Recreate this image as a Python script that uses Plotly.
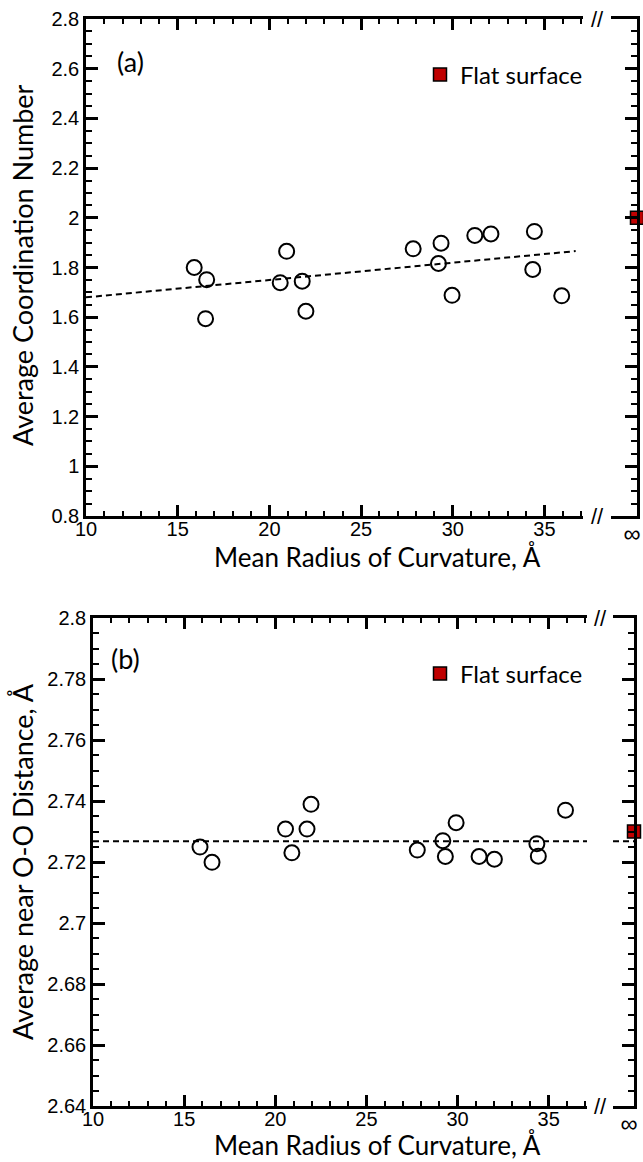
import plotly.graph_objects as go

# ---------------- data ----------------
# Panel (a): average coordination number vs mean radius of curvature
radius_a = [15.90, 16.58, 16.52, 20.94, 20.59, 21.79, 21.99, 27.84, 29.36, 29.22,
            29.96, 31.20, 32.08, 34.45, 34.36, 35.94]
coord_a = [1.800, 1.751, 1.594, 1.865, 1.739, 1.745, 1.624, 1.875, 1.898, 1.816,
           1.688, 1.929, 1.935, 1.945, 1.792, 1.686]
fit_x_a = [10.0, 36.7]
fit_y_a = [1.680, 1.866]
flat_x = [1.0]          # position of the "infinity" point on the broken segment
flat_a = [2.0]

# Panel (b): average near O-O distance vs mean radius of curvature
radius_b = [15.87, 16.53, 20.56, 20.91, 21.74, 21.96, 27.79, 29.19, 29.33, 29.92,
            31.18, 32.02, 34.35, 34.43, 35.92]
dist_b = [2.7249, 2.7199, 2.7308, 2.7230, 2.7308, 2.7389, 2.7239, 2.7270, 2.7218,
          2.7329, 2.7218, 2.7209, 2.7260, 2.7219, 2.7370]
fit_x_b = [10.0, 37.1]
fit_y_b = [2.7268, 2.7268]
fit_xinf_b = [0.0, 1.0]
fit_yinf_b = [2.7268, 2.7268]
flat_b = [2.730]

x_ticks = [10, 15, 20, 25, 30, 35]
x_ticklabels = ["10", "15", "20", "25", "30", "35"]
inf_label = ["∞"]
ya_ticks = [0.8, 1.0, 1.2, 1.4, 1.6, 1.8, 2.0, 2.2, 2.4, 2.6, 2.8]
ya_ticklabels = ["0.8", "1", "1.2", "1.4", "1.6", "1.8", "2", "2.2", "2.4", "2.6", "2.8"]
yb_ticks = [2.64, 2.66, 2.68, 2.70, 2.72, 2.74, 2.76, 2.78, 2.80]
yb_ticklabels = ["2.64", "2.66", "2.68", "2.7", "2.72", "2.74", "2.76", "2.78", "2.8"]

# ---------------- figure ----------------
W, H = 643, 1162
def px(x):
    return x / W
def py(y):
    return 1 - y / H

TICKFONT = dict(family="Liberation Sans, Arial", size=20, color="black")
TXTFONT = "Lato, Open Sans, sans-serif"
LW = 2.5

fig = go.Figure()

circ = dict(symbol="circle-open", size=15, color="black", line=dict(width=2, color="black"))
sq = dict(symbol="square", size=13, color="#C00000", line=dict(width=1.5, color="black"))
dash = dict(color="black", width=2, dash="6px,4px")

# panel a
fig.add_trace(go.Scatter(x=fit_x_a, y=fit_y_a, mode="lines", line=dash,
                         xaxis="x", yaxis="y", showlegend=False, hoverinfo="skip"))
fig.add_trace(go.Scatter(x=radius_a, y=coord_a, mode="markers", marker=circ,
                         xaxis="x", yaxis="y", showlegend=False))
fig.add_trace(go.Scatter(x=flat_x, y=flat_a, mode="markers", marker=sq, name="Flat surface",
                         xaxis="x2", yaxis="y2", cliponaxis=False, legend="legend"))
# panel b
fig.add_trace(go.Scatter(x=fit_x_b, y=fit_y_b, mode="lines", line=dash,
                         xaxis="x3", yaxis="y3", showlegend=False, hoverinfo="skip"))
fig.add_trace(go.Scatter(x=fit_xinf_b, y=fit_yinf_b, mode="lines", line=dash,
                         xaxis="x4", yaxis="y4", showlegend=False, hoverinfo="skip"))
fig.add_trace(go.Scatter(x=radius_b, y=dist_b, mode="markers", marker=circ,
                         xaxis="x3", yaxis="y3", showlegend=False))
fig.add_trace(go.Scatter(x=flat_x, y=flat_b, mode="markers", marker=sq, name="Flat surface",
                         xaxis="x4", yaxis="y4", cliponaxis=False, legend="legend2"))

def main_x(domain, anchor):
    return dict(domain=domain, anchor=anchor, range=[10, 37.1], showline=True, linewidth=LW,
                linecolor="black", mirror="ticks", ticks="inside", ticklen=11, tickwidth=LW,
                tickcolor="black", tickvals=x_ticks, ticktext=x_ticklabels, tickfont=TICKFONT,
                ticklabelstandoff=-7,
                minor=dict(ticks="inside", dtick=1, tick0=10, ticklen=5, tickwidth=1.5,
                           tickcolor="black"),
                showgrid=False, zeroline=False, fixedrange=True, automargin=False)

def inf_x(domain, anchor):
    return dict(domain=domain, anchor=anchor, range=[0, 1], showline=True, linewidth=LW,
                linecolor="black", mirror=True, ticks="", tickvals=flat_x, ticktext=inf_label,
                tickfont=dict(family="Liberation Sans, Arial", size=24, color="black"),
                ticklabelshift=-5, ticklabelstandoff=-6, showgrid=False, zeroline=False,
                fixedrange=True, automargin=False)

def left_y(domain, anchor, rng, tv, tt, minor_dtick):
    return dict(domain=domain, anchor=anchor, range=rng, showline=True, linewidth=LW,
                linecolor="black", ticks="inside", ticklen=12, tickwidth=LW, tickcolor="black",
                tickvals=tv, ticktext=tt, tickfont=TICKFONT,
                minor=dict(ticks="inside", dtick=minor_dtick, tick0=rng[0], ticklen=6,
                           tickwidth=1.5, tickcolor="black"),
                showgrid=False, zeroline=False, fixedrange=True, automargin=False)

def right_y(domain, anchor, rng, tv, minor_dtick):
    return dict(domain=domain, anchor=anchor, range=rng, side="right", showline=True,
                linewidth=LW, linecolor="black", ticks="inside", ticklen=12, tickwidth=LW,
                tickcolor="black", tickvals=tv, showticklabels=False,
                minor=dict(ticks="inside", dtick=minor_dtick, tick0=rng[0], ticklen=6,
                           tickwidth=1.5, tickcolor="black"),
                showgrid=False, zeroline=False, fixedrange=True, automargin=False)

dom_ya = [py(516), py(19)]
dom_yb = [py(1106), py(618)]

fig.update_layout(
    width=W, height=H, margin=dict(l=0, r=0, t=0, b=0, autoexpand=False),
    paper_bgcolor="white", plot_bgcolor="white",
    xaxis=main_x([px(86), px(583)], "y"),
    xaxis2=inf_x([px(611), px(637)], "y2"),
    yaxis=left_y(dom_ya, "x", [0.8, 2.8], ya_ticks, ya_ticklabels, 0.05),
    yaxis2=right_y(dom_ya, "x2", [0.8, 2.8], ya_ticks, 0.05),
    xaxis3=main_x([px(93), px(587)], "y3"),
    xaxis4=inf_x([px(613), px(634)], "y4"),
    yaxis3=left_y(dom_yb, "x3", [2.64, 2.80], yb_ticks, yb_ticklabels, 0.005),
    yaxis4=right_y(dom_yb, "x4", [2.64, 2.80], yb_ticks, 0.005),
    legend=dict(x=px(420), y=py(75), xanchor="left", yanchor="middle",
                bgcolor="rgba(0,0,0,0)", font=dict(family=TXTFONT, size=24, color="black")),
    legend2=dict(x=px(420), y=py(674), xanchor="left", yanchor="middle",
                 bgcolor="rgba(0,0,0,0)", font=dict(family=TXTFONT, size=24, color="black")),
)

ann = []
# axis break marks
for bx, by in [(597, 19), (597, 516), (600, 618), (600, 1106)]:
    ann.append(dict(text="//", x=px(bx), y=py(by), xref="paper", yref="paper",
                    showarrow=False, font=dict(family="Liberation Sans, Arial", size=22,
                                               color="black"),
                    bgcolor="white", xanchor="center", yanchor="middle"))
# panel labels
for lab, lx, ly in [("(a)", 130, 62), ("(b)", 125, 658)]:
    ann.append(dict(text=lab, x=px(lx), y=py(ly), xref="paper", yref="paper",
                    showarrow=False, xanchor="center", yanchor="middle",
                    font=dict(family=TXTFONT, size=27, color="black")))
# axis titles
for ty in [557, 1145]:
    ann.append(dict(text="Mean Radius of Curvature, Å", x=px(377), y=py(ty), xref="paper",
                    yref="paper", showarrow=False, xanchor="center", yanchor="middle",
                    font=dict(family=TXTFONT, size=26, color="black")))
for txt, ty in [("Average Coordination Number", 265), ("Average near O-O Distance, Å", 862)]:
    ann.append(dict(text=txt, x=px(22), y=py(ty), xref="paper", yref="paper",
                    showarrow=False, textangle=-90, xanchor="center", yanchor="middle",
                    font=dict(family=TXTFONT, size=27, color="black")))
fig.update_layout(annotations=ann)

fig.write_html("out.html", config={"displayModeBar": False},
               post_script="document.body.style.margin='0';document.body.style.overflow='hidden';")
